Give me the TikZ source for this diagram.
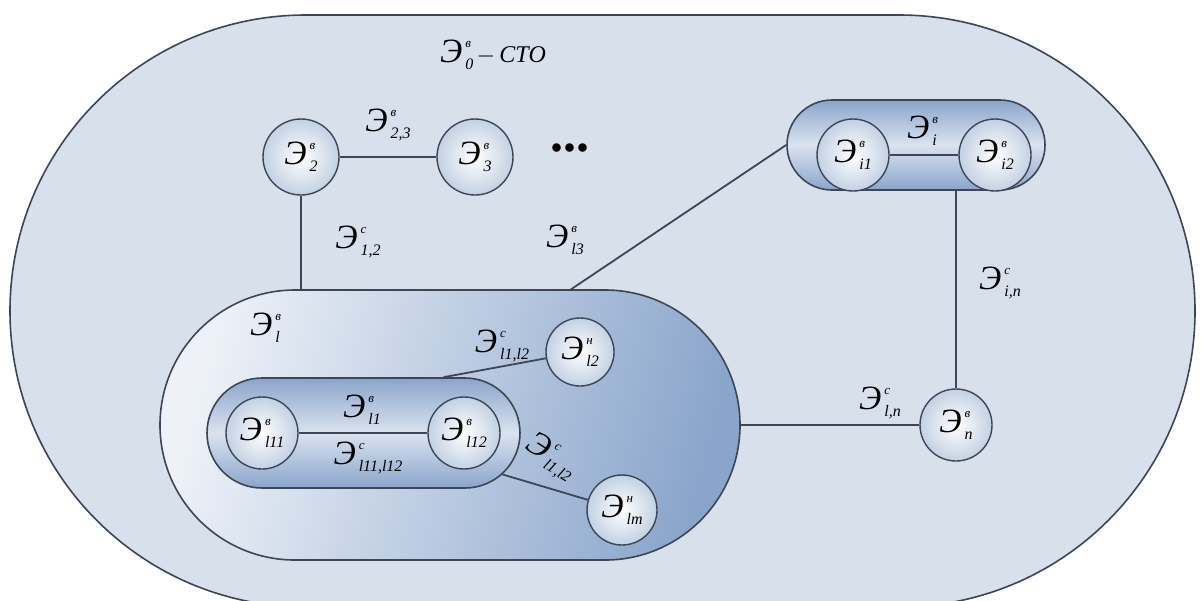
\documentclass[tikz,border=0pt]{standalone}
\usepackage{fontspec}
\setmainfont{Liberation Serif}
\usepackage{tikz}
\usetikzlibrary{shapes.misc,calc}
\definecolor{edgegrey}{HTML}{3C4656}
\definecolor{paleblue}{HTML}{D7E0EB}
\definecolor{lightblue}{HTML}{EEF2F8}
\definecolor{midblue}{HTML}{8AA5CB}
\definecolor{ballblue}{HTML}{C3D1E3}
% element symbol: Э with upper and lower index
\newcommand\Elem[2]{{\fontsize{17}{17}\selectfont Э}\kern1.5pt\makebox[0pt][l]{\raisebox{7.5pt}{\fontsize{6.5}{7}\selectfont #1}}\raisebox{-3.5pt}{\fontsize{8}{9}\selectfont #2}}

\begin{document}
\begin{tikzpicture}[x=0.5pt,y=-0.5pt, every node/.style={font=\itshape},
  link/.style={draw=edgegrey,line width=.9pt},
  elem/.style={circle,draw=edgegrey,line width=.7pt,inner sep=0pt,minimum size=37pt,shading=radial,inner color=white,outer color=ballblue},
  group/.style={rounded rectangle,draw=edgegrey,line width=.8pt,inner sep=0pt}]
\useasboundingbox (0,0) rectangle (1202,600);
\clip (0,0) rectangle (1202,600);
% outer system
\node[group,fill=paleblue,minimum width=592.5pt,minimum height=296pt] (cto) at (602.5,311) {};
\node at (493,55) {\Elem{в}{0}\,{\fontsize{12}{12}\selectfont $-$\,СТО}};
% subsystem l
\node[group,left color=lightblue,right color=midblue,shading angle=75,minimum width=290pt,minimum height=135pt] (l) at (450,425) {};
\node[group,top color=midblue,bottom color=midblue,middle color=lightblue!80!midblue,minimum width=156.5pt,minimum height=55pt] (l1) at (363.5,433) {};
% subsystem i
\node[group,top color=midblue,bottom color=midblue,middle color=lightblue!80!midblue,minimum width=129pt,minimum height=45pt] (i) at (916,145) {};
\coordinate (l3) at (570,290);
\coordinate (l1top) at ([xshift=40pt]l1.north);
% elements
\node[elem,minimum size=38pt] (e2) at (301,157) {};
\node[elem,minimum size=38pt] (e3) at (475,157) {};
\node[elem,minimum size=36pt] (i1) at (853,155) {};
\node[elem,minimum size=36pt] (i2) at (995,155) {};
\node[elem,minimum size=34pt] (l2) at (580,352) {};
\node[elem,minimum size=36pt] (l11) at (262,433) {};
\node[elem,minimum size=36pt] (l12) at (464,433) {};
\node[elem,minimum size=35pt] (lm) at (622,510) {};
\node[elem,minimum size=36pt] (n) at (956,425) {};
% connections
\draw[link] (e2) -- (e3);
\draw[link] (e2) -- (e2 |- l.north);
\draw[link] (l3) -- (i.west);
\draw[link] (n |- i.south) -- (n);
\draw[link] (l.east) -- (n);
\draw[link] (i1) -- (i2);
\draw[link] (l11) -- (l12);
\draw[link] (l1top) -- (l2);
\draw[link] (l1) -- (lm);
% element texts
\node at (e2) {\Elem{в}{2}};
\node at (e3) {\Elem{в}{3}};
\node at (i1) {\Elem{в}{i1}};
\node at (i2) {\Elem{в}{i2}};
\node at (l2) {\Elem{н}{l2}};
\node at (l11) {\Elem{в}{l11}};
\node at (l12) {\Elem{в}{l12}};
\node at (lm) {\Elem{н}{lm}};
\node at (n) {\Elem{в}{n}};
% link labels
\node at (388,125) {\Elem{в}{2,3}};
\node at (358,242) {\Elem{с}{1,2}};
\node at (565,240) {\Elem{в}{l3}};
\node at (570,148) {\fontsize{26}{26}\selectfont\bfseries\upshape ...};
\node at (922,131) {\Elem{в}{i}};
\node at (1000,283) {\Elem{с}{i,n}};
\node at (880,403) {\Elem{с}{l,n}};
\node at (265,328) {\Elem{в}{l}};
\node at (502,346) {\Elem{с}{l1,l2}};
\node at (362,410) {\Elem{в}{l1}};
\node at (368,458) {\Elem{с}{l11,l12}};
\node[rotate=-32] at (551,457) {\Elem{с}{l1,l2}};
\end{tikzpicture}
\end{document}
